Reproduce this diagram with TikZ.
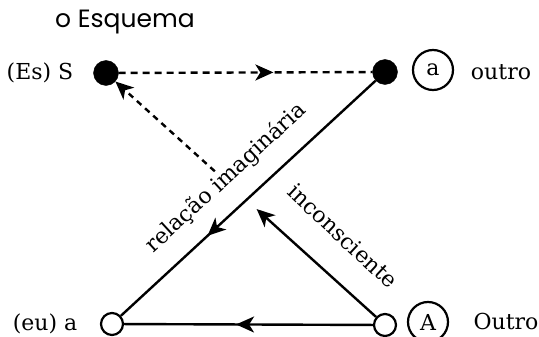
\documentclass[tikz,border=0pt]{standalone}
\usepackage{fontspec}
\setmainfont{DejaVu Serif}
\newfontfamily\titlefont{Poppins}
\usetikzlibrary{arrows.meta,calc,decorations.markings}
\begin{document}
\begin{tikzpicture}[x=1pt,y=-1pt,
  lbl/.style={inner sep=0pt,font=\fontsize{22}{26}\selectfont},
  soliddot/.style={circle,fill=black,draw=black,minimum size=25pt,inner sep=0pt},
  hollowdot/.style={circle,fill=white,draw=black,line width=2.2pt,minimum size=22pt,inner sep=0pt},
  ringed/.style={circle,draw=black,line width=2.2pt,minimum size=40pt,inner sep=0pt,font=\fontsize{22}{26}\selectfont},
  conn/.style={line width=2.4pt},
  tip/.style={-{Stealth[length=18pt,width=16pt,inset=5pt]}},
  midarrow/.style={postaction={decorate},decoration={markings,mark=at position #1 with {\arrow{Stealth[length=18pt,width=16pt,inset=5pt]}}}}
]
\useasboundingbox (0,0) rectangle (539,337);
\node[inner sep=0pt,font=\titlefont\fontsize{25}{28}\selectfont] (title) at (125,22) {o Esquema};
\node[soliddot] (S) at (106,73) {};
\node[soliddot] (a) at (385,72) {};
\node[hollowdot] (ea) at (112,324) {};
\node[hollowdot] (A) at (385,325) {};
\node[lbl] (lS) at (40,73) {(Es) S};
\node[lbl] (lea) at (45,324) {(eu) a};
\node[ringed] (ca) at (433,70) {a};
\node[lbl] (lo) at (501,72) {outro};
\node[ringed] (cA) at (428,322) {A};
\node[lbl] (lO) at (506,321) {Outro};
\coordinate (ti) at ($(A)!0.46!(S)$);
\coordinate (ds) at ($(A)!0.61!(S)$);
\draw[conn,dashed,dash pattern=on 7pt off 5pt,midarrow=0.61] (S) -- (a);
\draw[conn,midarrow=0.66] (a) -- (ea);
\draw[conn,midarrow=0.55] (A) -- (ea);
\draw[conn,tip] (A) -- (ti);
\draw[conn,tip,dash pattern=on 6pt off 5pt] (ds) -- (S);
\node[lbl,rotate=42.7] (ri) at (226,178) {relação imaginária};
\node[lbl,rotate=-43] (inc) at (343,236) {inconsciente};
\end{tikzpicture}
\end{document}
